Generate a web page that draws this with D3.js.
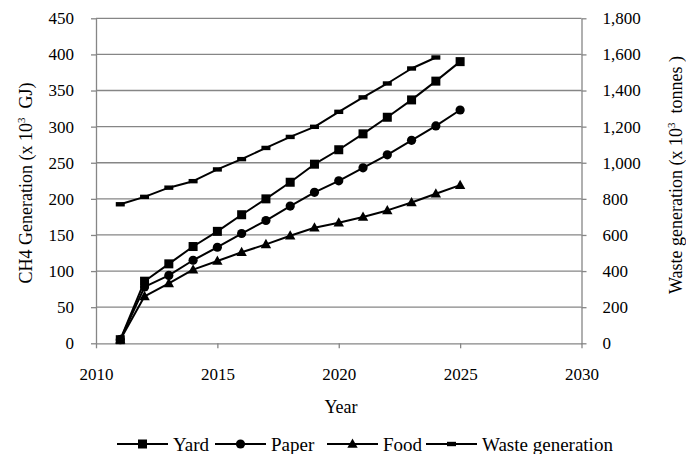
<!DOCTYPE html>
<html>
<head>
<meta charset="utf-8">
<script src="https://cdn.jsdelivr.net/npm/d3@7"></script>
<style>
  html, body { margin: 0; padding: 0; background: #fff; }
  svg { display: block; font-family: "Liberation Serif", "Times New Roman", serif; }
</style>
</head>
<body>
<svg id="chart" width="686" height="454"></svg>
<script>
// CH4 generation by waste type (left axis) and waste generation (right axis)
const years = [2011, 2012, 2013, 2014, 2015, 2016, 2017, 2018, 2019, 2020, 2021, 2022, 2023, 2024, 2025];
const yard  = [5, 86, 110, 134, 155, 178, 200, 223, 248, 268, 290, 313, 337, 363, 390];
const paper = [5, 78, 94, 115, 133, 152, 170, 190, 209, 225, 243, 261, 281, 301, 323];
const food  = [5, 65, 83, 102, 114, 126, 137, 149, 160, 167, 175, 184, 195, 207, 219];
const wasteYears = [2011, 2012, 2013, 2014, 2015, 2016, 2017, 2018, 2019, 2020, 2021, 2022, 2023, 2024];
const waste = [770, 811, 862, 898, 963, 1020, 1082, 1143, 1199, 1282, 1362, 1439, 1522, 1583];

const xTicks = [2010, 2015, 2020, 2025, 2030];
const leftTicks = [0, 50, 100, 150, 200, 250, 300, 350, 400, 450];
const rightTicks = [0, 200, 400, 600, 800, 1000, 1200, 1400, 1600, 1800];

const svg = d3.select("#chart");
const plotLeft = 96, plotRight = 581.5, plotTop = 18.3, plotBottom = 343.3;
const gridColor = "#868686";

const x = d3.scaleLinear().domain([2010, 2030]).range([plotLeft, plotRight]);
const y = d3.scaleLinear().domain([0, 450]).range([plotBottom, plotTop]);
const y2 = d3.scaleLinear().domain([0, 1800]).range([plotBottom, plotTop]);

// horizontal gridlines
svg.append("g").selectAll("line").data(leftTicks.slice(1)).join("line")
  .attr("x1", plotLeft).attr("x2", plotRight)
  .attr("y1", d => y(d)).attr("y2", d => y(d))
  .attr("stroke", gridColor).attr("stroke-width", 1.3);

function styleAxis(g) {
  g.select(".domain").attr("stroke", gridColor).attr("stroke-width", 1.3);
  g.selectAll(".tick line").attr("stroke", gridColor).attr("stroke-width", 1.3);
  g.selectAll(".tick text").attr("fill", "#000")
    .style("font-family", "Liberation Serif").style("font-size", "17px");
}

svg.append("g").attr("transform", `translate(${plotLeft},0)`)
  .call(d3.axisLeft(y).tickValues(leftTicks).tickSize(5).tickSizeOuter(0).tickPadding(17))
  .call(styleAxis);

svg.append("g").attr("transform", `translate(${plotRight},0)`)
  .call(d3.axisRight(y2).tickValues(rightTicks).tickSize(5).tickSizeOuter(0).tickPadding(16).tickFormat(d3.format(",")))
  .call(styleAxis);

svg.append("g").attr("transform", `translate(0,${plotBottom})`)
  .call(d3.axisBottom(x).tickValues(xTicks).tickSize(5).tickSizeOuter(0).tickPadding(20).tickFormat(d3.format("d")))
  .call(styleAxis);

// axis titles
svg.append("text").attr("x", 341).attr("y", 413)
  .attr("text-anchor", "middle").style("font-size", "18px").text("Year");

const lt = svg.append("text")
  .attr("transform", "translate(32,183) rotate(-90)")
  .attr("text-anchor", "middle").style("font-size", "18px").style("white-space", "pre");
lt.append("tspan").text("CH4 Generation (x 10");
lt.append("tspan").attr("dy", "-7").style("font-size", "11px").text("3");
lt.append("tspan").attr("dy", "7").text("  GJ)");

const rt = svg.append("text")
  .attr("transform", "translate(682,175) rotate(-90)")
  .attr("text-anchor", "middle").style("font-size", "18px").style("white-space", "pre");
rt.append("tspan").text("Waste generation (x 10");
rt.append("tspan").attr("dy", "-7").style("font-size", "11px").text("3");
rt.append("tspan").attr("dy", "7").text("  tonnes )");

// series
const series = [
  { name: "Yard", xs: years, vals: yard, scale: y, symbol: "square" },
  { name: "Paper", xs: years, vals: paper, scale: y, symbol: "circle" },
  { name: "Food", xs: years, vals: food, scale: y, symbol: "triangle" },
  { name: "Waste generation", xs: wasteYears, vals: waste, scale: y2, symbol: "dash" }
];

function drawMarker(g, type, cx, cy) {
  if (type === "square") {
    g.append("rect").attr("x", cx - 4.5).attr("y", cy - 4.5).attr("width", 9).attr("height", 9).attr("fill", "#000");
  } else if (type === "circle") {
    g.append("circle").attr("cx", cx).attr("cy", cy).attr("r", 4.6).attr("fill", "#000");
  } else if (type === "triangle") {
    g.append("path").attr("d", `M${cx},${cy - 5.5}L${cx + 5.2},${cy + 3.8}L${cx - 5.2},${cy + 3.8}Z`).attr("fill", "#000");
  } else {
    g.append("rect").attr("x", cx - 4.5).attr("y", cy - 2.2).attr("width", 9).attr("height", 4.4).attr("fill", "#000");
  }
}

series.forEach(s => {
  const pts = s.xs.map((yr, i) => [x(yr), s.scale(s.vals[i])]);
  const g = svg.append("g");
  g.append("path").attr("d", d3.line()(pts))
    .attr("fill", "none").attr("stroke", "#000").attr("stroke-width", 2).attr("stroke-linejoin", "round");
  pts.forEach(p => drawMarker(g, s.symbol, p[0], p[1]));
});

// legend
const legendX = [117, 215, 327, 426];
const legendY = 444;
series.forEach((s, i) => {
  const g = svg.append("g");
  const x0 = legendX[i];
  g.append("line").attr("x1", x0).attr("x2", x0 + 51).attr("y1", legendY).attr("y2", legendY)
    .attr("stroke", "#000").attr("stroke-width", 2.2);
  drawMarker(g, s.symbol, x0 + 25.5, legendY);
  g.append("text").attr("x", x0 + 56).attr("y", legendY + 6.5)
    .style("font-size", "19px").text(s.name);
});
</script>
</body>
</html>
